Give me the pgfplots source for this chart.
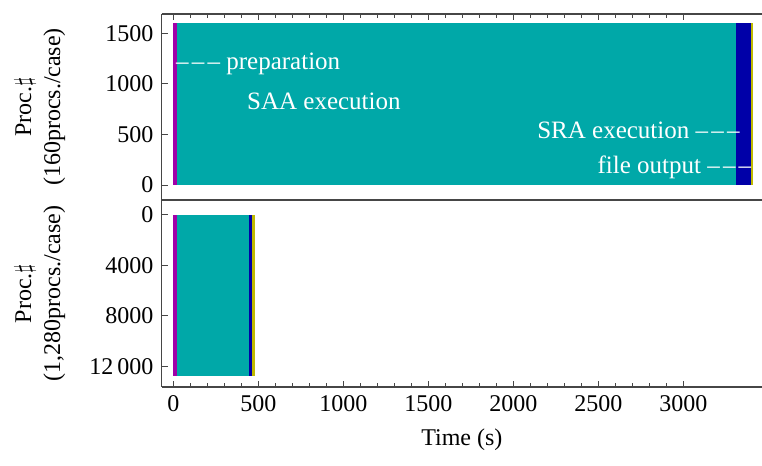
\documentclass[border=0pt]{standalone}
\usepackage{pgfplots}
\pgfplotsset{compat=1.18}
\usepackage{fontspec}
\setmainfont{Liberation Serif}
\definecolor{cprep}{RGB}{160,0,168}
\definecolor{csaa}{RGB}{0,168,168}
\definecolor{csra}{RGB}{0,0,168}
\definecolor{cout}{RGB}{190,185,0}
\definecolor{cframe}{RGB}{70,70,70}
\newcommand{\dsh}{\textendash\kern1.6pt\textendash\kern1.6pt\textendash}
\pgfplotsset{
  common/.style={
    scale only axis, width=300.15pt,
    xmin=-68, xmax=3463,
    axis x line*=box, axis y line*=left,
    tick align=inside,
    axis line style={cframe, line width=0.6pt},
    every tick/.style={cframe, line width=0.5pt},
    major tick length=3pt, minor tick length=2pt,
    xtick={0,500,1000,1500,2000,2500,3000},
    minor x tick num=4,
    scaled ticks=false,
    /pgf/number format/assume math mode=true,
    /pgf/number format/1000 sep={},
    ylabel style={align=center, at={(axis description cs:-0.203,0.5)}, anchor=center},
  }
}
\begin{document}
{\fontsize{12}{14.5}\selectfont
\begin{tikzpicture}
\useasboundingbox (0,0) rectangle (381pt,233pt);
\begin{axis}[common, height=93pt, at={(80.85pt,133pt)}, anchor=south west,
  ymin=-148, ymax=1690,
  xtick pos=top, ytick pos=left, xticklabels={},
  ytick={0,500,1000,1500},
  ylabel={Proc.$\sharp$\\(160procs./case)}]
\addplot[fill=cprep, draw=none] coordinates {(0,0) (20,0) (20,1600) (0,1600)};
\addplot[fill=csaa, draw=none] coordinates {(20,0) (3309,0) (3309,1600) (20,1600)};
\addplot[fill=csra, draw=none] coordinates {(3309,0) (3397,0) (3397,1600) (3309,1600)};
\addplot[fill=cout, draw=none] coordinates {(3397,0) (3413,0) (3413,1600) (3397,1600)};
\begin{scope}[font=\fontsize{12.5}{15}\selectfont]
\node[white, anchor=west, inner sep=0pt] at (axis cs:15,1200) {\dsh\ preparation};
\node[white, anchor=center, inner sep=0pt] at (axis cs:886,830) {SAA execution};
\node[white, anchor=east, inner sep=0pt] at (axis cs:3333,545) {SRA execution \dsh};
\node[white, anchor=east, inner sep=0pt] at (axis cs:3402,175) {file output \dsh};
\end{scope}
\end{axis}
\begin{axis}[common, height=93.5pt, at={(80.85pt,39.5pt)}, anchor=south west,
  y dir=reverse, ymin=-1190, ymax=13650,
  xtick pos=bottom, ytick pos=left,
  ytick={0,4000,8000,12000},
  yticklabel style={/pgf/number format/1000 sep={\,}, /pgf/number format/min exponent for 1000 sep=4},
  ylabel={Proc.$\sharp$\\(1,280procs./case)},
  xlabel={Time (s)},
  xlabel style={at={(axis description cs:0.5,-0.283)}, anchor=center}]
\addplot[fill=cprep, draw=none] coordinates {(0,0) (20,0) (20,12800) (0,12800)};
\addplot[fill=csaa, draw=none] coordinates {(20,0) (445,0) (445,12800) (20,12800)};
\addplot[fill=csra, draw=none] coordinates {(445,0) (461,0) (461,12800) (445,12800)};
\addplot[fill=cout, draw=none] coordinates {(461,0) (479,0) (479,12800) (461,12800)};
\end{axis}
\end{tikzpicture}}
\end{document}
